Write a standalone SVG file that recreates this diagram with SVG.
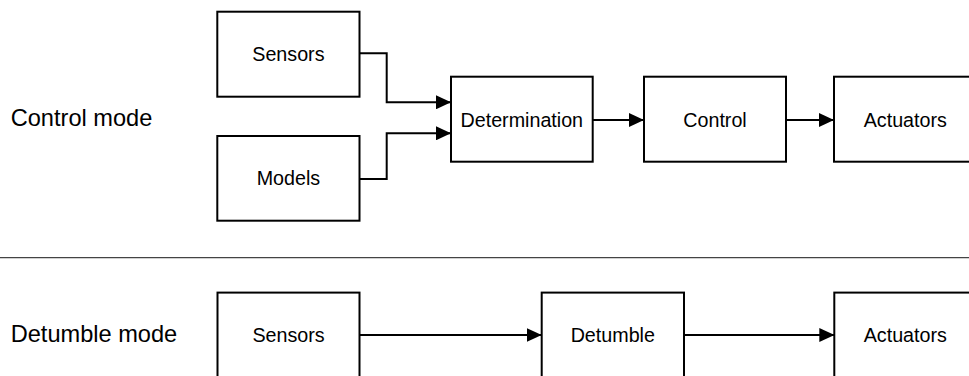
<svg xmlns="http://www.w3.org/2000/svg" width="969" height="376" viewBox="0 0 969 376">
<style>
.box{fill:#fff;stroke:#000;stroke-width:2}
.lbl{font-family:"Liberation Sans",Arial,sans-serif;font-size:19.7px;fill:#000;text-anchor:middle}
.mode{font-family:"Liberation Sans",Arial,sans-serif;font-size:23.6px;fill:#000}
.conn{fill:none;stroke:#000;stroke-width:2}
</style>
<defs>
<marker id="arr" markerUnits="userSpaceOnUse" markerWidth="15" markerHeight="14" refX="15" refY="7" orient="auto">
<path d="M0,0 L15,7 L0,14 z" fill="#000"/>
</marker>
</defs>
<rect width="969" height="376" fill="#fff"/>
<text class="mode" x="10.7" y="126">Control mode</text>
<text class="mode" x="10.7" y="341.7">Detumble mode</text>
<line x1="0" y1="257.7" x2="969" y2="257.7" stroke="#444" stroke-width="1.3"/>
<g id="connectors">
<path class="conn" d="M359.5,53.3 H386.7 V102.3 H451" marker-end="url(#arr)"/>
<path class="conn" d="M359.5,179 H386.7 V133.3 H451" marker-end="url(#arr)"/>
<path class="conn" d="M592.7,120 H644" marker-end="url(#arr)"/>
<path class="conn" d="M786,120 H834" marker-end="url(#arr)"/>
<path class="conn" d="M359.5,335 H541.7" marker-end="url(#arr)"/>
<path class="conn" d="M684,335 H834.3" marker-end="url(#arr)"/>
</g>
<g id="sensors-top"><rect class="box" x="217.3" y="11.7" width="142.2" height="85"/><text class="lbl" x="288.4" y="61.2">Sensors</text></g>
<g id="models"><rect class="box" x="217.3" y="136" width="142.2" height="84.7"/><text class="lbl" x="288.4" y="185">Models</text></g>
<g id="determination"><rect class="box" x="451" y="76.7" width="141.7" height="85"/><text class="lbl" x="521.8" y="126.6">Determination</text></g>
<g id="control"><rect class="box" x="644" y="76.7" width="142" height="85"/><text class="lbl" x="715" y="126.6">Control</text></g>
<g id="actuators-top"><rect class="box" x="834" y="76.7" width="142" height="85"/><text class="lbl" x="905.3" y="126.6">Actuators</text></g>
<g id="sensors-bottom"><rect class="box" x="217.5" y="292.6" width="142" height="85"/><text class="lbl" x="288.5" y="341.7">Sensors</text></g>
<g id="detumble"><rect class="box" x="541.7" y="292.6" width="142.3" height="85"/><text class="lbl" x="612.8" y="341.7">Detumble</text></g>
<g id="actuators-bottom"><rect class="box" x="834.3" y="292.6" width="142" height="85"/><text class="lbl" x="905.3" y="341.7">Actuators</text></g>
</svg>
